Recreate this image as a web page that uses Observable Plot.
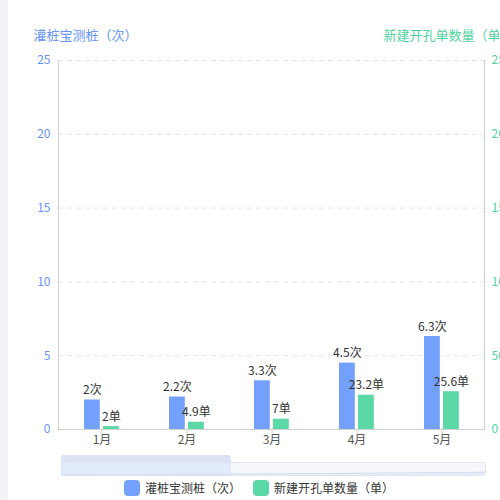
<!DOCTYPE html>
<html>
<head>
<meta charset="utf-8">
<script src="https://cdn.jsdelivr.net/npm/d3@7"></script>
<script src="https://cdn.jsdelivr.net/npm/@observablehq/plot@0.6"></script>
<style>
  body { margin: 0; width: 500px; height: 500px; overflow: hidden; background: #fff; position: relative;
         font-family: "Noto Sans CJK SC", "Noto Sans", sans-serif; }
  #strip { position: absolute; left: 0; top: 0; width: 8px; height: 500px; background: #f2f3f8; }
  #chart { position: absolute; left: 0; top: 0; }
  #zoom { position: absolute; left: 0; top: 461px; }
  #sel { position: absolute; top: 455px; height: 21px; background: rgba(214, 226, 252, 0.6); border-radius: 3px 3px 0 0; }
  #sel .handle { height: 7px; background: #dde3f3; border-radius: 3px 3px 0 0; }
  #legend { position: absolute; top: 479px; left: 124px; display: flex; align-items: center; font-size: 12px; color: #333; }
  #legend .item { display: flex; align-items: center; margin-right: 12px; }
  #legend .sw { width: 16px; height: 16px; border-radius: 4px; margin-right: 5px; }
</style>
</head>
<body>
<div id="strip"></div>
<div id="chart"></div>
<div id="zoom"></div>
<div id="sel"><div class="handle"></div></div>
<div id="legend"></div>
<script>
// 数据
const months = ["1月", "2月", "3月", "4月", "5月"];
const ceZhuang = [2, 2.2, 3.3, 4.5, 6.3];      // 灌桩宝测桩（次）
const kaiKong = [2, 4.9, 7, 23.2, 25.6];       // 新建开孔单数量（单）
const leftTicks = [0, 5, 10, 15, 20, 25];
const rightTicks = [0, 50, 100, 150, 200, 250];
const zoomRange = [0, 40]; // dataZoom 百分比

const nameA = "灌桩宝测桩（次）";
const nameB = "新建开孔单数量（单）";
const blue = "#73a0fa";
const green = "#5ad8a6";
const blueText = "#6594f6";
const greenText = "#4fd39f";

const rows = months.map((m, i) => ({ month: m, i, a: ceZhuang[i], b: kaiKong[i] }));
const ratio = rightTicks[rightTicks.length - 1] / leftTicks[leftTicks.length - 1]; // 右轴 0-250 对应左轴 0-25

const W = 500, mL = 58, mR = 16;
const bw = (W - mL - mR) / months.length;

let chart = Plot.plot({
  width: W,
  height: 450,
  marginTop: 60,
  marginBottom: 21,
  marginLeft: mL,
  marginRight: mR,
  style: { fontFamily: "'Noto Sans CJK SC', sans-serif", fontSize: "12px", background: "transparent", overflow: "visible" },
  x: { domain: months, padding: 0, axis: null },
  y: { domain: [0, 25], axis: null },
  marks: [
    Plot.gridY(leftTicks.slice(1), { stroke: "#e0e6f1", strokeOpacity: 1, strokeDasharray: "5,4" }),
    Plot.frame({ anchor: "left", stroke: "#d0d0d0" }),
    Plot.frame({ anchor: "right", stroke: "#d0d0d0" }),
    Plot.barY(rows, { x: "month", y: "a", fill: blue, insetLeft: 25, insetRight: bw - 41 }),
    Plot.barY(rows, { x: "month", y: d => d.b / ratio, fill: green, insetLeft: 44, insetRight: bw - 60 }),
    Plot.ruleY([0], { stroke: "#d0d0d0" }),
    Plot.text(rows, { x: "month", y: "a", text: d => d.a + "次", dx: 33 - bw / 2, dy: -6, lineAnchor: "bottom", fill: "#333", fontSize: 12 }),
    Plot.text(rows, { x: "month", y: d => d.b / ratio, text: d => d.b + "单", dx: 52 - bw / 2, dy: -6, lineAnchor: "bottom", fill: "#333", fontSize: 12 }),
    Plot.axisY(leftTicks, { anchor: "left", tickSize: 0, tickPadding: 8, fill: blueText, fontSize: 12, label: null }),
    Plot.axisY(leftTicks, { anchor: "right", tickSize: 0, tickPadding: 7, tickFormat: d => d * ratio, fill: greenText, fontSize: 12, label: null }),
    Plot.axisX({ tickSize: 4, tickPadding: 2, stroke: "#d0d0d0", fill: "#555", fontSize: 12, label: null }),
    Plot.text([nameA], { frameAnchor: "top-left", dx: -25, dy: -30, textAnchor: "start", lineAnchor: "top", fill: blueText, fontSize: 13 }),
    Plot.text([nameB], { frameAnchor: "top-right", dx: -101, dy: -30, textAnchor: "start", lineAnchor: "top", fill: greenText, fontSize: 13 })
  ]
});
d3.select("#chart").append(() => chart);

// dataZoom 缩略图
let mini = Plot.plot({
  width: W,
  height: 15,
  marginTop: 1,
  marginBottom: 1,
  marginLeft: 61,
  marginRight: 15,
  style: { background: "transparent" },
  x: { domain: [0, months.length - 1], axis: null },
  y: { domain: [0, 25], axis: null },
  marks: [
    Plot.frame({ fill: "#f6f7fb", stroke: "#e0e5f3", rx: 3 }),
    Plot.areaY(rows, { x: "i", y: "a", fill: "#e9edf7", curve: "monotone-x" }),
    Plot.lineY(rows, { x: "i", y: "a", stroke: "#d6ddef", strokeWidth: 1, curve: "monotone-x" })
  ]
});
d3.select("#zoom").append(() => mini);

const zx = d3.scaleLinear().domain([0, 100]).range([61, W - 15]);
d3.select("#sel")
  .style("left", zx(zoomRange[0]) + "px")
  .style("width", (zx(zoomRange[1]) - zx(zoomRange[0])) + "px");

// 图例
const legend = d3.select("#legend");
[[nameA, blue], [nameB, green]].forEach(([n, c]) => {
  const it = legend.append("div").attr("class", "item");
  it.append("div").attr("class", "sw").style("background", c);
  it.append("span").text(n);
});
</script>
</body>
</html>
